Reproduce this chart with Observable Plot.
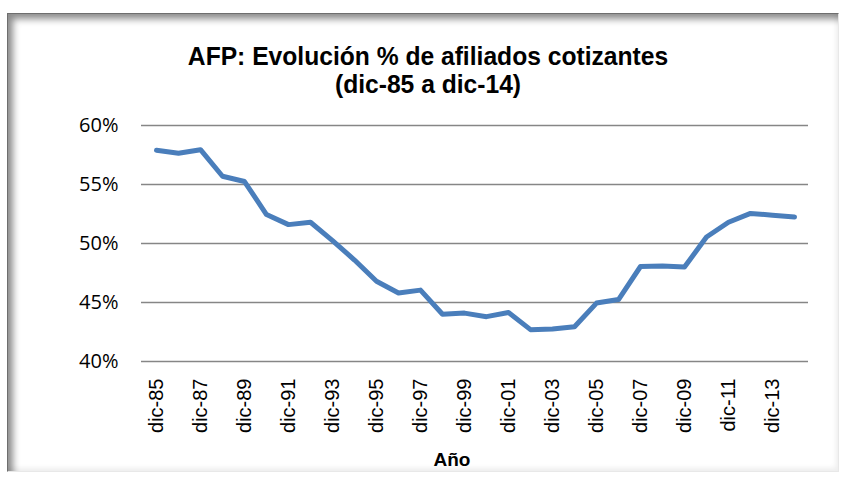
<!DOCTYPE html>
<html>
<head>
<meta charset="utf-8">
<script src="https://cdn.jsdelivr.net/npm/d3@7"></script>
<script src="https://cdn.jsdelivr.net/npm/@observablehq/plot@0.6"></script>
<style>
  html, body { margin: 0; padding: 0; background: #fff; }
  #wrap { position: relative; width: 842px; height: 479px; overflow: hidden; }
  #frame { position: absolute; left: 7px; top: 13px; width: 832px; height: 459px;
    box-sizing: border-box; border-left: 1px solid #6e6e6e; border-top: 1px solid #6e6e6e;
    border-right: 1px solid #e8e8e8; border-bottom: 1px solid #e8e8e8;
    box-shadow: inset 7px 7px 7px -2px rgba(0,0,0,0.45), inset -3px -4px 5px -1px rgba(0,0,0,0.07); }
  .title { position: absolute; left: 0; width: 856px; text-align: center;
    font-family: "Liberation Sans", Arial, sans-serif; font-weight: bold;
    font-size: 25px; line-height: 28px; color: #000; white-space: nowrap;
    transform-origin: 428px 0; transform: scaleX(0.985); }
  #title1 { top: 42px; }
  #title2 { top: 70px; }
  #xtitle { position: absolute; left: 452px; top: 449px; transform: translateX(-50%);
    font-family: "Liberation Sans", Arial, sans-serif; font-weight: bold; font-size: 19px; color: #000; }
  #chart { position: absolute; left: 0; top: 0; }
</style>
</head>
<body>
<div id="wrap">
  <div id="frame"></div>
  <div id="chart"></div>
  <div class="title" id="title1">AFP: Evolución % de afiliados cotizantes</div>
  <div class="title" id="title2">(dic-85 a dic-14)</div>
  <div id="xtitle">Año</div>
</div>
<script>
const labels = ["dic-85","dic-86","dic-87","dic-88","dic-89","dic-90","dic-91","dic-92","dic-93","dic-94",
  "dic-95","dic-96","dic-97","dic-98","dic-99","dic-00","dic-01","dic-02","dic-03","dic-04",
  "dic-05","dic-06","dic-07","dic-08","dic-09","dic-10","dic-11","dic-12","dic-13","dic-14"];
const values = [57.9, 57.65, 57.95, 55.7, 55.25, 52.45, 51.6, 51.8, 50.25, 48.6,
  46.8, 45.8, 46.05, 44.0, 44.1, 43.8, 44.15, 42.7, 42.75, 42.95,
  44.95, 45.25, 48.05, 48.1, 48.0, 50.55, 51.8, 52.55, 52.4, 52.25];
const yTicks = [40, 45, 50, 55, 60];
const xTicks = labels.filter((d, i) => i % 2 === 0);

const data = labels.map((l, i) => ({label: l, value: values[i]}));

const chart = Plot.plot({
  width: 842,
  height: 479,
  marginLeft: 141,
  marginRight: 34,
  marginTop: 125,
  marginBottom: 118,
  style: {background: "transparent", overflow: "visible"},
  x: {type: "point", domain: labels, padding: 0.5, align: 0.5},
  y: {domain: [40, 60]},
  marks: [
    Plot.gridY(yTicks, {stroke: "#868686", strokeOpacity: 1, strokeWidth: 1.4}),
    Plot.axisY(yTicks, {tickSize: 0, tickPadding: 23, tickFormat: d => d + "%",
      fontSize: 20, fontFamily: "Open Sans", fill: "#000", label: null}),
    Plot.axisX(xTicks, {tickSize: 0, tickPadding: 17, tickRotate: -90,
      fontSize: 20, fontFamily: "Liberation Sans", fill: "#000", label: null}),
    Plot.line(data, {x: "label", y: "value", stroke: "#4a7ebb", strokeWidth: 5,
      strokeLinejoin: "round", strokeLinecap: "round"})
  ]
});
document.getElementById("chart").appendChild(chart);
</script>
</body>
</html>
